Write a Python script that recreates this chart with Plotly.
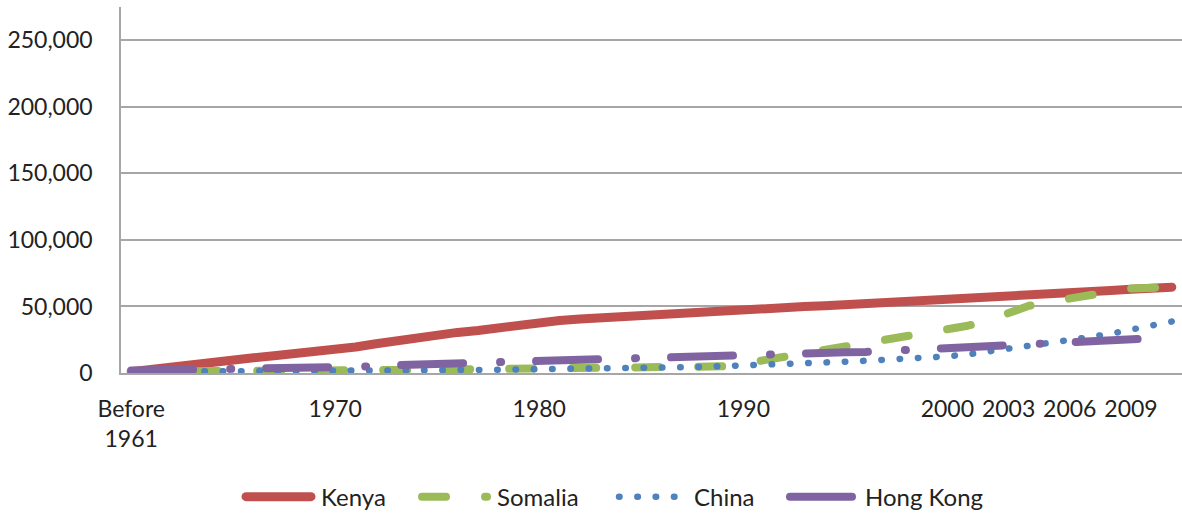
import plotly.graph_objects as go

# Category axis: one slot for the pre-1961 total, then one per year
categories = ["Before 1961"] + [str(y) for y in range(1961, 2012)]

tick_categories = ["Before 1961", "1970", "1980", "1990", "2000", "2003", "2006", "2009"]
tick_text = ["Before<br>1961", "1970", "1980", "1990", "2000", "2003", "2006", "2009"]

kenya = [1000, 3000, 4800, 6800, 8500, 10000, 11500, 13000, 14300, 15500,
         17000, 19500, 22000, 24500, 27000, 29000, 30500, 32000, 34000, 36500,
         38500, 39500, 40500, 41500, 42500, 43500, 44500, 45500, 46200, 47000,
         47800, 48500, 49200, 49900, 50600, 51300, 52000, 52700, 53300, 54000,
         54800, 55600, 56400, 57200, 58000, 59000, 60000, 61000, 62000, 63000,
         64000, 64500]

somalia = [1000, 1200, 1400, 1500, 1600, 1700, 1800, 1900, 2000, 2000,
           2100, 2200, 2200, 2300, 2300, 2400, 2400, 2500, 2500, 2600,
           2700, 2800, 3000, 3100, 3300, 3500, 3700, 4000, 4400, 5000,
           7000, 9500, 12500, 15000, 17500, 19500, 22000, 24500, 27500, 30500,
           32000, 35500, 39500, 45000, 50500, 53500, 56500, 58500, 61000, 63500,
           64200, 64500]

china = [1000, 1000, 1100, 1100, 1200, 1200, 1300, 1300, 1400, 1500,
         1600, 1700, 1800, 1900, 2000, 2100, 2200, 2300, 2400, 2500,
         2700, 2900, 3100, 3300, 3500, 3700, 4000, 4300, 4600, 5000,
         5300, 5800, 6400, 7100, 7800, 8500, 9200, 9900, 10700, 11500,
         12500, 14000, 16000, 18000, 20000, 22500, 24500, 27000, 29500, 32500,
         35000, 38700]

hong_kong = [1800, 2000, 2200, 2400, 2600, 3000, 3200, 3300, 3400, 3500,
             3600, 4500, 5000, 6000, 6500, 6800, 7000, 7500, 8000, 9000,
             9500, 9800, 10000, 10200, 10400, 10600, 11500, 12000, 12200, 12500,
             13000, 13700, 14500, 15000, 15300, 15500, 15800, 16500, 17000, 17300,
             18000, 18500, 19200, 19800, 20300, 21000, 22000, 23000, 24000, 25300,
             26000, 26700]

# name, values, colour, width, dash pattern, legend id, legend x (paper)
series = [
    ("Kenya", kenya, "#C0504D", 9, "solid", "legend", 0.1131),
    ("Somalia", somalia, "#9BBB59", 8, "24px,39px", "legend2", 0.2790),
    ("China", china, "#4F81BD", 6.5, "0.5px,17.8px", "legend3", 0.4647),
    ("Hong Kong", hong_kong, "#8064A2", 8, "62px,37px,1px,35px", "legend4", 0.6258),
]

axis_gray = "#A6A6A6"
font_family = "Lato, Carlito, Calibri, sans-serif"

fig = go.Figure()
legends = {}
for name, values, color, width, dash, legend_id, legend_x in series:
    fig.add_trace(go.Scatter(
        x=categories, y=values, name=name, mode="lines",
        line=dict(color=color, width=width, dash=dash),
        legend=legend_id, hoverinfo="x+y+name",
    ))
    legends[legend_id] = dict(
        orientation="h", x=legend_x, xanchor="left",
        yref="container", y=0.033, yanchor="middle",
        font=dict(size=24, family=font_family, color="#222222"),
        itemwidth=70, bgcolor="rgba(0,0,0,0)",
    )

fig.update_layout(
    width=1182, height=514,
    margin=dict(l=121, r=0, t=7, b=141),
    paper_bgcolor="white", plot_bgcolor="white",
    font=dict(family=font_family, color="#222222"),
    showlegend=True,
    **legends,
    xaxis=dict(
        type="category", categoryorder="array", categoryarray=categories,
        range=[-0.5, len(categories) - 0.5],
        tickmode="array", tickvals=tick_categories, ticktext=tick_text,
        tickfont=dict(size=23), ticks="", ticklabelstandoff=15,
        showgrid=False, zeroline=False,
        showline=True, linecolor=axis_gray, linewidth=1.5,
    ),
    yaxis=dict(
        range=[0, 275000], tick0=0, dtick=50000, tickformat=",",
        tickfont=dict(size=23), ticks="", ticklabelstandoff=22,
        showgrid=True, gridcolor=axis_gray, gridwidth=1.5,
        zeroline=False, showline=True, linecolor=axis_gray, linewidth=1.5,
    ),
)

# Round caps and joins on every line, and longer legend swatches
post = """
var s = document.createElement('style');
s.textContent = '.js-line{stroke-linecap:round;stroke-linejoin:round}';
document.head.appendChild(s);
document.querySelectorAll('.infolayer path.js-line').forEach(function(p){p.setAttribute('d','M5,0h65');});
"""

fig.write_html("out.html", post_script=post)
